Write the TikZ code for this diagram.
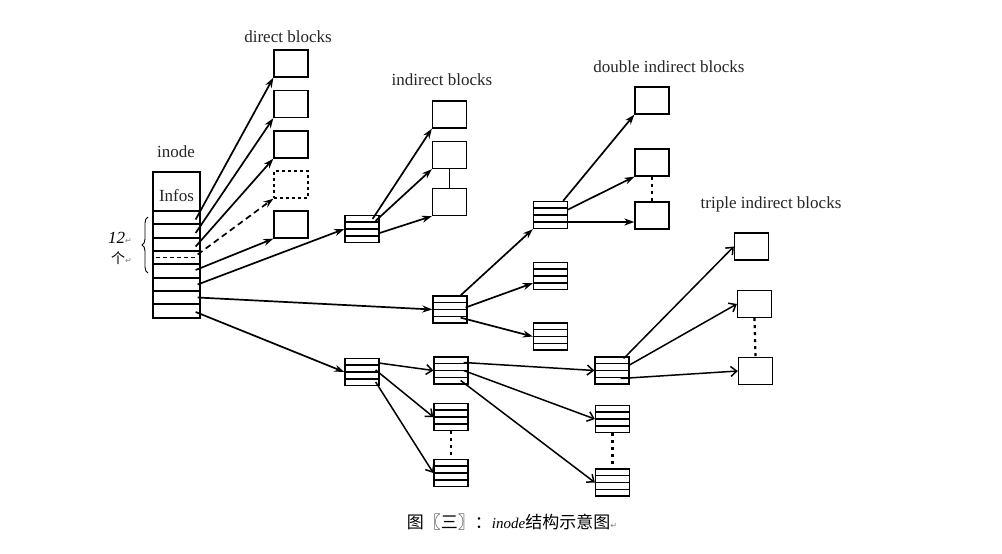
\documentclass[tikz,border=0pt]{standalone}
\usepackage{fontspec}
\setmainfont{Liberation Serif}
\newfontfamily\cjk{Noto Sans CJK SC}
\newfontfamily\dvs{DejaVu Sans}
\usetikzlibrary{arrows.meta,calc,decorations.pathreplacing}
\newcommand\ptrlines[1]{\foreach \k in {1,2,3}{\draw[line width=1.2pt] ($(#1.north west)!\k/4!(#1.south west)$) -- ($(#1.north east)!\k/4!(#1.south east)$);}}
\newcommand\retmark{{\dvs\color{gray}\fontsize{8}{9}\selectfont ↵}}
\begin{document}
\begin{tikzpicture}[x=1pt,y=-1pt,
 blk/.style={draw,line width=1.3pt,minimum width=34pt,minimum height=27pt,inner sep=0pt,fill=white},
 dblk/.style={blk,dashed},
 rowbox/.style={draw,line width=1.3pt,minimum width=47pt,inner sep=0pt},
 lbl/.style={font=\fontsize{17}{20}\selectfont,inner sep=0pt,text=black!85},
 arr/.style={line width=1.7pt,-{Stealth[length=10pt,width=7pt]}},
 darr/.style={arr,dash pattern=on 6pt off 4pt},
 arrb/.style={line width=1.5pt,-{Straight Barb[length=6pt,width=10pt]}},
 dotln/.style={line width=2.3pt,dash pattern=on 3pt off 4pt},
]
\fill[white] (0,0) rectangle (1002,554);
\useasboundingbox (0,0) rectangle (1002,554);

% inode
\node[lbl] (lino) at (176,152) {inode};
\node[rowbox,minimum height=39pt] (info) at (176.5,191.5) {};
\node[lbl] (infot) at (176.5,196) {Infos};
\node[rowbox,minimum height=13pt] (r1) at (176.5,217.5) {};
\node[rowbox,minimum height=14pt] (r2) at (176.5,231) {};
\node[rowbox,minimum height=13pt] (r3) at (176.5,244.5) {};
\node[rowbox,minimum height=13pt] (r4) at (176.5,257.5) {};
\node[rowbox,minimum height=14pt] (r5) at (176.5,271) {};
\node[rowbox,minimum height=13pt] (r6) at (176.5,284.5) {};
\node[rowbox,minimum height=13pt] (r7) at (176.5,297.5) {};
\node[rowbox,minimum height=14pt] (r8) at (176.5,311) {};
\draw[line width=1.3pt,dash pattern=on 4pt off 3pt] ($(r4.west)+(4,0)$) -- ($(r4.east)+(-4,0)$);

% brace and 12
\coordinate (bt) at (148,217);
\coordinate (bb) at (148,273);
\draw[line width=0.9pt,decorate,decoration={brace,amplitude=6pt}] (bb) -- (bt);
\node[inner sep=0pt,anchor=east] (n12) at (132,238) {\fontsize{17}{20}\selectfont\itshape 12\retmark};
\node[inner sep=0pt,anchor=east] (nge) at (132,258) {\cjk\fontsize{14}{16}\selectfont 个\retmark};

% direct blocks
\node[lbl] (ldir) at (288,37) {direct blocks};
\node[blk] (d1) at (291,63.5) {};
\node[blk] (d2) at (291,104) {};
\node[blk] (d3) at (291,144.5) {};
\node[dblk] (d4) at (291,184.5) {};
\node[blk] (d5) at (291,224.5) {};
\draw[arr] ($(r1.east)+(-5,2)$) -- (d1.south west);
\draw[arr] ($(r2.east)+(-5,2)$) -- (d2.south west);
\draw[arr] ($(r3.east)+(-5,2)$) -- (d3.south west);
\draw[darr] ($(r4.east)+(-3,-3)$) -- (d4.south west);
\draw[arr] ($(r5.east)+(-5,-1)$) -- (d5.south west);

% indirect blocks
\node[lbl] (lind) at (442,80) {indirect blocks};
\node[blk] (ia) at (362,229) {};
\ptrlines{ia}
\node[blk] (i1) at (449.5,114.5) {};
\node[blk] (i2) at (449.5,155) {};
\node[blk] (i3) at (449.5,202) {};
\draw[line width=1.6pt] (i2.south) -- (i3.north);
\draw[arr] ($(r6.east)+(-3,0)$) -- (ia.west);
\draw[arr] ($(ia.north east)+(-7,4)$) -- (i1.south west);
\draw[arr] ($(ia.north east)+(-4,6)$) -- (i2.south west);
\draw[arr] ($(ia.east)+(0,4)$) -- (i3.south west);

% double indirect blocks
\node[lbl] (ldbl) at (669,67) {double indirect blocks};
\node[blk] (da) at (450,309.5) {};
\ptrlines{da}
\node[blk] (db) at (550.5,215) {};
\ptrlines{db}
\node[blk] (dc) at (550.5,276) {};
\ptrlines{dc}
\node[blk] (dd) at (550.5,336.5) {};
\ptrlines{dd}
\node[blk] (b1) at (652,100.5) {};
\node[blk] (b2) at (652,162.5) {};
\node[blk] (b3) at (652,215.5) {};
\draw[dotln] (b2.south) -- (b3.north);
\draw[arr] ($(r7.east)+(-3,0)$) -- (da.west);
\draw[arr] ($(da.north east)+(-7,0)$) -- (db.south west);
\draw[arr] ($(da.east)+(-2,-2)$) -- ($(dc.south west)+(0,-7)$);
\draw[arr] ($(da.south east)+(-7,-6)$) -- (dd.west);
\draw[arr] ($(db.north east)+(-5,0)$) -- (b1.south west);
\draw[arr] ($(db.east)+(-1,-5)$) -- (b2.south west);
\draw[arr] ($(db.east)+(0,7)$) -- ($(b3.west)+(0,6.5)$);

% triple indirect blocks
\node[lbl] (ltri) at (771,204) {triple indirect blocks};
\node[blk] (ta) at (362,372) {};
\ptrlines{ta}
\node[blk] (tb) at (451,370.5) {};
\ptrlines{tb}
\node[blk] (tc) at (451,417) {};
\ptrlines{tc}
\node[blk] (td) at (451,473) {};
\ptrlines{td}
\node[blk] (te) at (612,370.5) {};
\ptrlines{te}
\node[blk] (tf) at (612.5,419) {};
\ptrlines{tf}
\node[blk] (tg) at (612.5,482.5) {};
\ptrlines{tg}
\node[blk] (t1) at (751.5,246.5) {};
\node[blk] (t2) at (754.5,304) {};
\node[blk] (t3) at (755.5,371) {};
\draw[dotln] (tc.south) -- (td.north);
\draw[dotln] (tf.south) -- (tg.north);
\draw[dotln] (t2.south) -- (t3.north);
\draw[arr] ($(r8.east)+(-5,1)$) -- (ta.west);
\draw[arrb] ($(ta.east)+(-1,-9)$) -- (tb.west);
\draw[arrb] ($(ta.east)+(-4,-2)$) -- (tc.west);
\draw[arrb] ($(ta.east)+(-4,10)$) -- (td.west);
\draw[arrb] ($(tb.east)+(-5,-8)$) -- (te.west);
\draw[arrb] ($(tb.east)+(-5,0)$) -- (tf.west);
\draw[arrb] ($(tb.east)+(-8,10)$) -- (tg.west);
\draw[arrb] ($(te.east)+(-6,-12)$) -- (t1.west);
\draw[arrb] ($(te.east)+(-1,-5)$) -- (t2.west);
\draw[arrb] ($(te.east)+(-9,8)$) -- (t3.west);

% caption
\node[inner sep=0pt] (cap) at (512,522) {\cjk\fontsize{17}{20}\selectfont 图〖三〗：{\rmfamily\itshape\fontsize{15}{18}\selectfont inode}结构示意图\retmark};
\end{tikzpicture}
\end{document}
